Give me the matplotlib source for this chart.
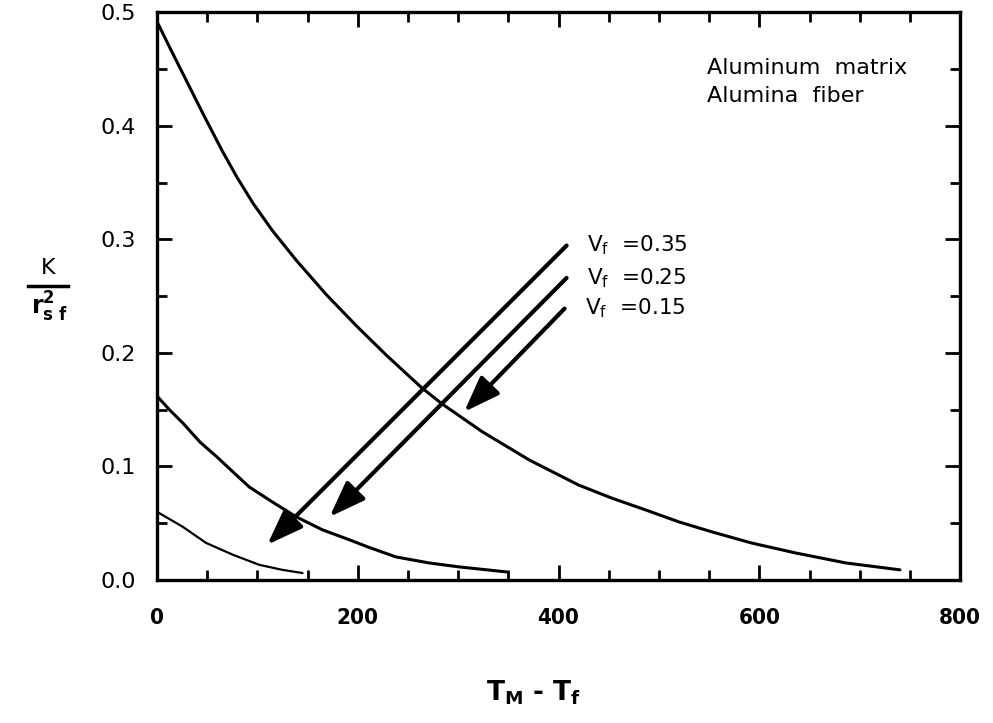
import matplotlib
matplotlib.use("Agg")
import matplotlib.pyplot as plt
from matplotlib.lines import Line2D
from matplotlib.ticker import MultipleLocator, FixedLocator

# K / r_sf^2 against T_M - T_f, one curve per fibre volume fraction
x_35 = [0, 13, 26, 46, 65, 80, 96, 115, 139, 169, 199, 229, 264, 284, 324,
        371, 420, 453, 487, 520, 553, 592, 636, 686, 740]
k_35 = [0.492, 0.4686, 0.4457, 0.4105, 0.378, 0.3543, 0.3314, 0.3077, 0.2813,
        0.251, 0.2235, 0.1975, 0.169, 0.155, 0.1305, 0.1055, 0.0835, 0.072,
        0.0615, 0.051, 0.0422, 0.0325, 0.0237, 0.0149, 0.0088]

x_25 = [0, 13, 26, 43, 60, 76, 92, 115, 139, 165, 192, 210, 238, 271, 301, 348]
k_25 = [0.162, 0.1494, 0.138, 0.1213, 0.1081, 0.0949, 0.0818, 0.0686, 0.0554,
        0.044, 0.0352, 0.029, 0.0202, 0.0149, 0.0114, 0.007]

x_15 = [0, 26, 49, 76, 102, 125, 145]
k_15 = [0.060, 0.0466, 0.0325, 0.022, 0.0132, 0.0088, 0.006]

vf_labels = ["0.35", "0.25", "0.15"]
# arrow tails and tips (data coords), one per label
arrow_tail = [(408, 0.2945), (408, 0.266), (406, 0.239)]
arrow_tip = [(110, 0.031), (172, 0.0555), (306, 0.148)]

x_ticklabels = [0, 200, 400, 600, 800]
y_ticklabels = ["0.0", "0.1", "0.2", "0.3", "0.4", "0.5"]

plt.rcParams["font.family"] = "DejaVu Sans"
plt.rcParams["mathtext.fontset"] = "dejavusans"

fig = plt.figure(figsize=(9.93, 7.23), dpi=100)
ax = fig.add_axes([0.158, 0.198, 0.809, 0.785])

ax.plot(x_35, k_35, color="black", lw=2.2, solid_capstyle="round")
ax.plot(x_25, k_25, color="black", lw=2.2, solid_capstyle="round")
ax.plot(x_15, k_15, color="black", lw=1.6, solid_capstyle="round")

for tail, tip, lab in zip(arrow_tail, arrow_tip, vf_labels):
    ax.annotate("", xy=tip, xytext=tail,
                arrowprops=dict(arrowstyle="-|>,head_length=1.1,head_width=0.4",
                                lw=3, color="black", mutation_scale=20,
                                shrinkA=0, shrinkB=0))
    ax.text(tail[0] + 20, tail[1], r"V$_\mathregular{f}$  =" + lab,
            fontsize=15.5, va="center", ha="left")

ax.text(548, 0.451, "Aluminum  matrix", fontsize=16, va="center", ha="left")
ax.text(548, 0.426, "Alumina  fiber", fontsize=16, va="center", ha="left")

ax.set_xlim(0, 800)
ax.set_ylim(0, 0.5)

ax.xaxis.set_major_locator(FixedLocator(x_ticklabels))
ax.xaxis.set_minor_locator(MultipleLocator(50))
ax.yaxis.set_major_locator(FixedLocator([0.0, 0.1, 0.2, 0.3, 0.4, 0.5]))
ax.yaxis.set_minor_locator(MultipleLocator(0.05))
ax.set_yticklabels(y_ticklabels)

ax.tick_params(which="both", direction="in", top=True, right=True, width=2)
ax.tick_params(which="major", length=11)
ax.tick_params(which="minor", length=7)
ax.tick_params(axis="y", which="major", length=11, labelsize=16, pad=15)
ax.tick_params(axis="x", which="major", labelsize=16, pad=20)
for lab in ax.get_xticklabels():
    lab.set_fontweight("bold")
    lab.set_fontstretch("condensed")

for sp in ax.spines.values():
    sp.set_linewidth(2.4)

# x axis title
fig.text(0.537, 0.042, r"T$_\mathbf{M}$ - T$_\mathbf{f}$", fontsize=19,
         fontweight="bold", ha="center", va="center")

# y axis title drawn as a stacked fraction
fig.text(0.049, 0.63, "K", fontsize=16, ha="center", va="center")
fig.add_artist(Line2D([0.028, 0.068], [0.605, 0.605], color="black", lw=2.5,
                      transform=fig.transFigure))
fig.text(0.05, 0.575, r"r$_\mathregular{s\ f}^\mathregular{2}$", fontsize=17,
         fontweight="bold", ha="center", va="center")

fig.savefig("out.png", dpi=100)
